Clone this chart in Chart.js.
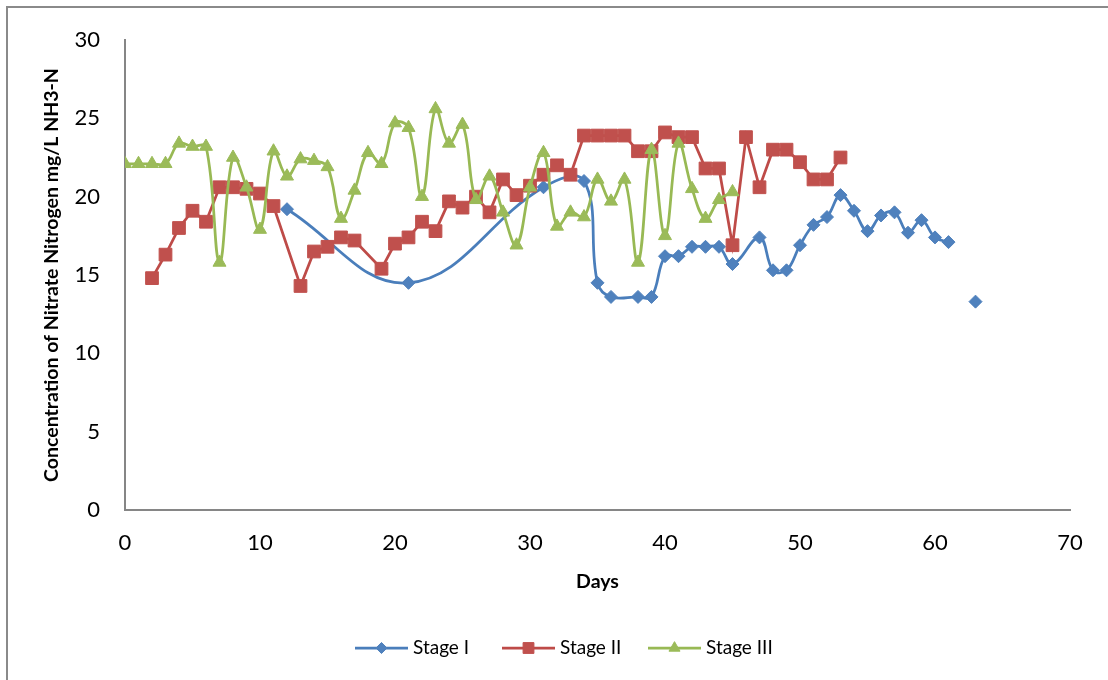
<!DOCTYPE html>
<html>
<head>
<meta charset="utf-8">
<script src="https://cdn.jsdelivr.net/npm/chart.js@4/dist/chart.umd.min.js"></script>
<style>
  body { margin: 0; background: #fff; }
  canvas { display: block; }
</style>
</head>
<body>
<canvas id="nitrateChart" width="1108" height="680"></canvas>
<script>
// data
const stage1Days = [12, 21, 31, 34, 35, 36, 38, 39, 40, 41, 42, 43, 44, 45, 47, 48, 49, 50, 51, 52, 53, 54, 55, 56, 57, 58, 59, 60, 61, 62, 63];
const stage1Values = [19.2, 14.5, 20.6, 21.0, 14.5, 13.6, 13.6, 13.6, 16.2, 16.2, 16.8, 16.8, 16.8, 15.7, 17.4, 15.3, 15.3, 16.9, 18.2, 18.7, 20.1, 19.1, 17.8, 18.8, 19.0, 17.7, 18.5, 17.4, 17.1, null, 13.3];

const stage2Days = [2, 3, 4, 5, 6, 7, 8, 9, 10, 11, 13, 14, 15, 16, 17, 19, 20, 21, 22, 23, 24, 25, 26, 27, 28, 29, 30, 31, 32, 33, 34, 35, 36, 37, 38, 39, 40, 41, 42, 43, 44, 45, 46, 47, 48, 49, 50, 51, 52, 53];
const stage2Values = [14.8, 16.3, 18.0, 19.1, 18.4, 20.6, 20.6, 20.5, 20.2, 19.4, 14.3, 16.5, 16.8, 17.4, 17.2, 15.4, 17.0, 17.4, 18.4, 17.8, 19.7, 19.3, 20.0, 19.0, 21.1, 20.1, 20.7, 21.4, 22.0, 21.4, 23.9, 23.9, 23.9, 23.9, 22.9, 22.9, 24.1, 23.8, 23.8, 21.8, 21.8, 16.9, 23.8, 20.6, 23.0, 23.0, 22.2, 21.1, 21.1, 22.5];

const stage3Days = [0, 1, 2, 3, 4, 5, 6, 7, 8, 9, 10, 11, 12, 13, 14, 15, 16, 17, 18, 19, 20, 21, 22, 23, 24, 25, 26, 27, 28, 29, 30, 31, 32, 33, 34, 35, 36, 37, 38, 39, 40, 41, 42, 43, 44, 45];
const stage3Values = [22.1, 22.1, 22.1, 22.1, 23.4, 23.2, 23.2, 15.8, 22.5, 20.6, 17.9, 22.9, 21.3, 22.4, 22.3, 21.9, 18.6, 20.4, 22.8, 22.1, 24.7, 24.4, 20.0, 25.6, 23.4, 24.6, 19.8, 21.3, 19.0, 16.9, 20.6, 22.8, 18.1, 19.0, 18.7, 21.1, 19.7, 21.1, 15.8, 23.0, 17.5, 23.4, 20.5, 18.6, 19.8, 20.3];

const seriesNames = ['Stage I', 'Stage II', 'Stage III'];
const xTitle = 'Days';
const yTitle = 'Concentration of Nitrate Nitrogen mg/L NH3-N';

const FONT = 'Lato, "Open Sans", sans-serif';

function toPoints(days, values) {
    return days.map((d, i) => ({ x: d, y: values[i] }));
}

// styles per series: line colour, marker colour, marker shape, radius, smoothing
const seriesStyles = [
    { line: '#4A7EBB', fill: '#4F81BD', shape: 'rectRot', radius: 6.5, tension: 0.4 },
    { line: '#BE4B48', fill: '#C0504D', shape: 'rect', radius: 9, tension: 0 },
    { line: '#98B954', fill: '#9BBB59', shape: 'triangle', radius: 7.5, tension: 0.4 }
];

const seriesData = [
    toPoints(stage1Days, stage1Values),
    toPoints(stage2Days, stage2Values),
    toPoints(stage3Days, stage3Values)
];

const datasets = seriesNames.map((name, i) => {
    const s = seriesStyles[i];
    return {
        label: name,
        data: seriesData[i],
        borderColor: s.line,
        backgroundColor: s.fill,
        borderWidth: 2.75,
        tension: s.tension,
        spanGaps: false,
        pointStyle: s.shape,
        pointRadius: s.radius,
        pointBackgroundColor: s.fill,
        pointBorderColor: s.fill,
        pointBorderWidth: 1,
        order: 3 - i // later series drawn on top, like Excel
    };
});

// outer frame of the chart object (only left/top visible in the picture)
const framePlugin = {
    id: 'frame',
    beforeDraw(chart) {
        const ctx = chart.ctx;
        ctx.save();
        ctx.fillStyle = '#fff';
        ctx.fillRect(0, 0, chart.width, chart.height);
        ctx.strokeStyle = '#8a8a8a';
        ctx.lineWidth = 2;
        ctx.beginPath();
        ctx.moveTo(7, chart.height + 5);
        ctx.lineTo(7, 7);
        ctx.lineTo(chart.width + 5, 7);
        ctx.stroke();
        ctx.restore();
    }
};

// Excel-style legend: short line with the marker in the middle
const legendPlugin = {
    id: 'excelLegend',
    afterDraw(chart) {
        const ctx = chart.ctx;
        const starts = [355, 502, 648];
        const y = 648;
        ctx.save();
        ctx.font = '19px ' + FONT;
        ctx.textBaseline = 'middle';
        chart.data.datasets.forEach((ds, i) => {
            const x0 = starts[i];
            ctx.strokeStyle = ds.borderColor;
            ctx.lineWidth = 2.75;
            ctx.beginPath();
            ctx.moveTo(x0, y);
            ctx.lineTo(x0 + 53, y);
            ctx.stroke();
            ctx.fillStyle = ds.pointBackgroundColor;
            ctx.strokeStyle = ds.pointBorderColor;
            ctx.lineWidth = 1;
            Chart.helpers.drawPoint(ctx, {
                pointStyle: ds.pointStyle,
                radius: ds.pointRadius * 0.85,
                rotation: 0,
                borderWidth: 1
            }, x0 + 26.5, y);
            ctx.fillStyle = '#000';
            ctx.fillText(ds.label, x0 + 58, y);
        });
        ctx.restore();
    }
};

new Chart(document.getElementById('nitrateChart'), {
    type: 'line',
    data: { datasets: datasets },
    options: {
        responsive: false,
        animation: false,
        devicePixelRatio: 1,
        layout: { padding: { left: 10, top: 40, right: 38, bottom: 70 } },
        plugins: {
            legend: { display: false },
            tooltip: { enabled: false }
        },
        scales: {
            x: {
                type: 'linear',
                min: 0,
                max: 70,
                ticks: {
                    stepSize: 10,
                    color: '#000',
                    padding: 20,
                    font: { family: FONT, size: 22 }
                },
                grid: { display: false, drawTicks: false },
                border: { display: true, color: '#868686', width: 2 },
                title: {
                    display: true,
                    text: xTitle,
                    color: '#000',
                    font: { family: FONT, size: 19.5, weight: 'bold' },
                    padding: { top: 0, bottom: 17 }
                },
                afterFit(scale) { scale.height = 100; }
            },
            y: {
                min: 0,
                max: 30,
                ticks: {
                    stepSize: 5,
                    color: '#000',
                    padding: 25,
                    font: { family: FONT, size: 22 }
                },
                grid: { display: false, drawTicks: false },
                border: { display: true, color: '#868686', width: 2 },
                title: {
                    display: true,
                    text: yTitle,
                    color: '#000',
                    font: { family: FONT, size: 19.5, weight: 'bold' },
                    padding: { top: 30, bottom: 0 }
                },
                afterFit(scale) { scale.width = 115; }
            }
        }
    },
    plugins: [framePlugin, legendPlugin]
});
</script>
</body>
</html>
